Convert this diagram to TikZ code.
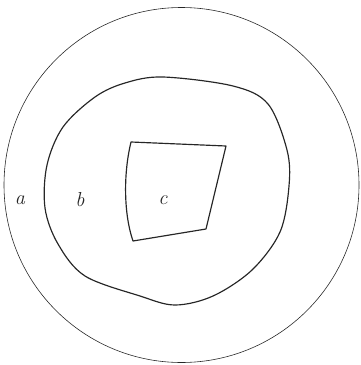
\documentclass[tikz,border=0pt]{standalone}
\usepackage{tikz}
\usepackage{xcolor}
\definecolor{ink}{HTML}{262626}

\begin{document}
\begin{tikzpicture}[x=0.03cm,y=-0.03cm,
    rim/.style={ink,line width=0.5pt},
    region/.style={ink,line width=1pt,line join=round},
    lab/.style={font=\LARGE\itshape,text=ink,inner sep=0pt}]
        \useasboundingbox (0,0) rectangle (360,365);
        % outer disc
        \draw[rim] (181.5,185) circle (177.5);
        % middle region
        \draw[region] plot[smooth cycle,tension=0.55] coordinates {
          (163,77) (233,86) (268,104) (287,150) (289,186) (280,232)
          (252,270) (213,296) (175,305) (140,296) (85,276) (58,244)
          (45,208) (47,165) (63,127) (95,97) (125,83)};
        % inner quadrilateral
        \draw[region] (131,142) -- (226,146) -- (206,229) -- (133,241)
          .. controls (124,215) and (123,175) .. cycle;
        \foreach \name/\x in {a/20,b/80,c/163}{
          \node[lab] (\name) at (\x,200) {\name};
        }
      \end{tikzpicture}
\end{document}
